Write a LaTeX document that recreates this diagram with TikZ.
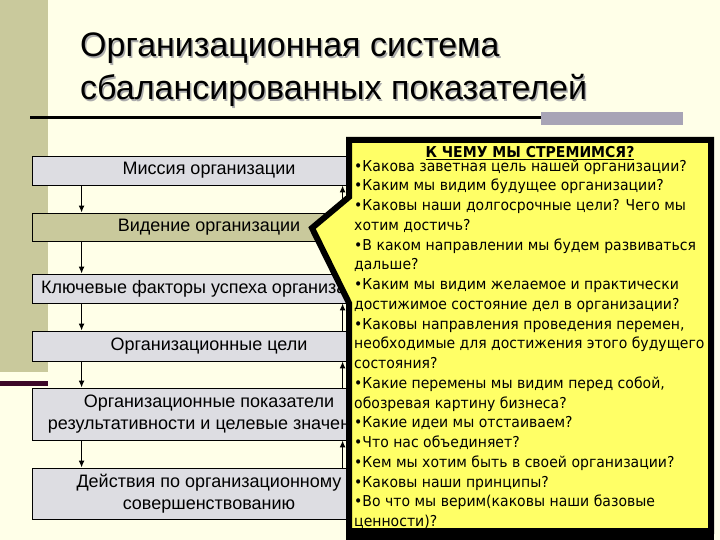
\documentclass[tikz,border=0pt]{standalone}
\usepackage{fontspec}
\setmainfont{Liberation Sans}
\newfontfamily\askfont[FakeStretch=0.935]{DejaVu Sans}
\usetikzlibrary{arrows.meta}
\definecolor{cream}{RGB}{255,255,232}
\definecolor{stripolive}{RGB}{201,201,156}
\definecolor{stagegray}{RGB}{221,221,226}
\definecolor{maroonbar}{RGB}{60,8,40}
\definecolor{rulegray}{RGB}{168,164,182}
\definecolor{askyellow}{RGB}{255,255,102}
\tikzset{
  stage/.style={shape=rectangle, draw=black, line width=0.8pt, fill=stagegray, minimum width=354pt, minimum height=29pt, inner sep=0pt, align=center, font=\fontsize{18}{22}\selectfont},
  flow/.style={line width=1.6pt, -{Latex[length=7pt,width=6pt]}},
  headline/.style={anchor=north west, align=left, inner sep=0pt, font=\fontsize{34}{43}\selectfont},
}
\begin{document}
\begin{tikzpicture}[x=1pt, y=-1pt]
	\useasboundingbox (0,0) rectangle (720,540);
	\fill[cream] (0,0) rectangle (720,540);
	\fill[stripolive] (0,0) rectangle (48,372);
	\fill[maroonbar] (0,381) rectangle (48,386);
	\node[headline, text=gray!65] (titleshade) at (81.5,34.5) {Организационная система\\сбалансированных показателей};
	\node[headline] (title) at (80,33) {Организационная система\\сбалансированных показателей};
	\draw[line width=2.5pt] (30,117.5) -- (541,117.5);
	\fill[rulegray] (541,112) rectangle (683,125);
	\node[stage] (mission) at (209,170.5) {Миссия организации};
	\node[stage, fill=stripolive, minimum height=28pt] (vision) at (209,227) {Видение организации};
	\node[stage] (factors) at (209,288.5) {Ключевые факторы успеха организации};
	\node[stage, minimum height=30pt] (goals) at (209,346) {Организационные цели};
	\node[stage, minimum height=52pt] (measures) at (209,414) {Организационные показатели\\результативности и целевые значения};
	\node[stage, minimum height=51pt] (actions) at (209,493.5) {Действия по организационному\\совершенствованию};
	\draw[flow] ([xshift=50pt]mission.south west) -- ([xshift=50pt]vision.north west);
	\draw[flow] ([xshift=50pt]vision.south west) -- ([xshift=50pt]factors.north west);
	\draw[flow] ([xshift=50pt]factors.south west) -- ([xshift=50pt]goals.north west);
	\draw[flow] ([xshift=50pt]goals.south west) -- ([xshift=50pt]measures.north west);
	\draw[flow] ([xshift=50pt]measures.south west) -- ([xshift=50pt]actions.north west);
	\draw[flow] ([xshift=311pt]vision.north west) -- ([xshift=311pt]mission.south west);
	\draw[flow] ([xshift=311pt]factors.north west) -- ([xshift=311pt]vision.south west);
	\draw[flow] ([xshift=311pt]goals.north west) -- ([xshift=311pt]factors.south west);
	\draw[flow] ([xshift=311pt]measures.north west) -- ([xshift=311pt]goals.south west);
	\draw[flow] ([xshift=311pt]actions.north west) -- ([xshift=311pt]measures.south west);
	\fill (346,531) rectangle (714,540);
	\draw[line width=6pt, line join=miter, fill=askyellow] (349,140) -- (711,140) -- (711,531) -- (349,531) -- (349,303) -- (312,228) -- (349,197) -- cycle;
	\node[anchor=base, font=\askfont\bfseries\fontsize{15}{18}\selectfont] (askhead) at (530,157.5) {\underline{К ЧЕМУ МЫ СТРЕМИМСЯ?}};
	\node[anchor=north west, align=left, inner sep=0pt, font=\askfont\fontsize{15}{19.75}\selectfont] (askbody) at (354,159.5) {•Какова заветная цель нашей организации?\\
		•Каким мы видим будущее организации?\\
		•Каковы наши долгосрочные цели? Чего мы\\
		хотим достичь?\\
		•В каком направлении мы будем развиваться\\
		дальше?\\
		•Каким мы видим желаемое и практически\\
		достижимое состояние дел в организации?\\
		•Каковы направления проведения перемен,\\
		необходимые для достижения этого будущего\\
		состояния?\\
		•Какие перемены мы видим перед собой,\\
		обозревая картину бизнеса?\\
		•Какие идеи мы отстаиваем?\\
		•Что нас объединяет?\\
		•Кем мы хотим быть в своей организации?\\
		•Каковы наши принципы?\\
		•Во что мы верим(каковы наши базовые\\
		ценности)?};
\end{tikzpicture}
\end{document}
